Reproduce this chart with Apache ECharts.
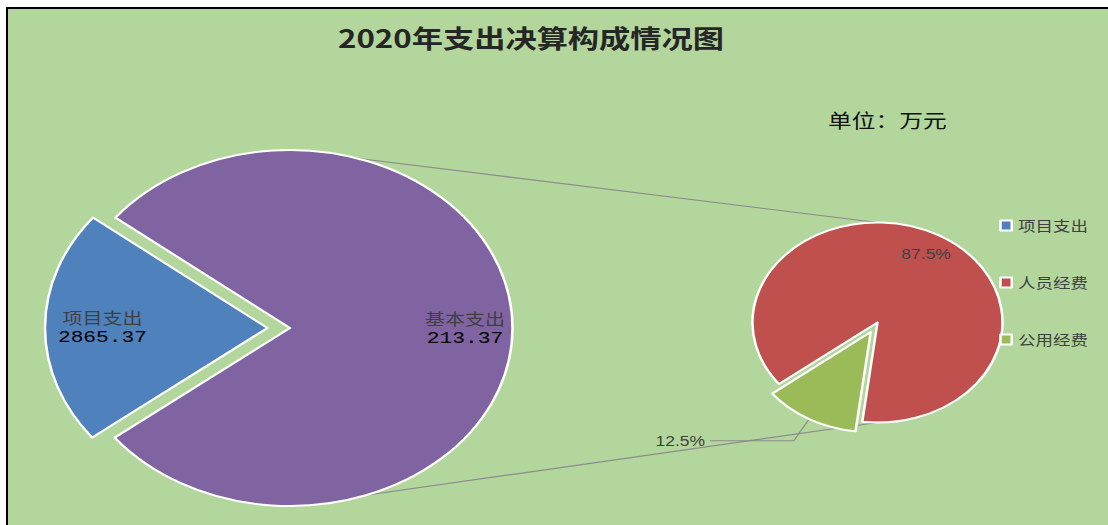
<!DOCTYPE html>
<html>
<head>
	<meta charset="UTF-8">
	<title>2020年支出决算构成情况图</title>
	<script src="https://cdn.jsdelivr.net/npm/echarts@6/dist/echarts.min.js"></script>
	<style>
		html, body { margin: 0; padding: 0; background: #fff; overflow: hidden; }
		#frame { position: absolute; left: 6px; top: 7px; width: 1100px; height: 516px; border-left: 2px solid #000; border-top: 2px solid #000; overflow: hidden; background: #b3d69c; }
		/* 原图整体横向拉伸约 1.25 倍，饼图呈椭圆 */
		#main { width: 880px; height: 516px; transform: scaleX(1.25); transform-origin: 0 0; }
	</style>
</head>
<body>
	<div id="frame"><div id="main"></div></div>
	<script type="text/javascript">
		// 数据
		var mainNames = ['项目支出', '基本支出'];
		var mainShares = [21.2, 78.8];          // 左侧大饼图扇区占比（按图量取）
		var mainLabels = ['2865.37', '213.37'];  // 左侧饼图标注的数值
		var subNames = ['人员经费', '公用经费'];
		var subValues = [87.5, 12.5];
		var legendNames = ['项目支出', '人员经费', '公用经费'];

		var mainColors = ['#4f81bd', '#8064a2'];
		var subColors = ['#c0504d', '#9bbb59'];

		// 两个饼图的位置
		var L = { cx: 225.6, cy: 319, r: 178 };
		var R = { cx: 695.6, cy: 313.5, r: 100 };
		var cjk = 'Noto Sans CJK SC';
		var clear = 'rgba(0,0,0,0)';

		var chart = echarts.init(document.getElementById('main'), null, { renderer: 'svg' });

		var option = {
			animation: false,
			backgroundColor: '#b3d69c',
			title: [{
				text: '2020年支出决算构成情况图',
				left: 264,
				top: 15,
				padding: 0,
				textStyle: { fontSize: 25, fontWeight: 'bold', color: '#262626', fontFamily: cjk }
			}, {
				text: '单位：万元',
				left: 656,
				top: 101,
				padding: 0,
				textStyle: { fontSize: 19, fontWeight: 'normal', color: '#111', fontFamily: cjk }
			}],
			legend: {
				orient: 'vertical',
				left: 793,
				top: 209,
				padding: 0,
				data: legendNames,
				icon: 'rect',
				itemWidth: 9,
				itemHeight: 10,
				itemGap: 42,
				selectedMode: false,
				itemStyle: { borderColor: '#fff', borderWidth: 2 },
				textStyle: { fontSize: 14, lineHeight: 15, color: '#404040', fontFamily: cjk }
			},
			// 两饼之间的连接线
			graphic: [{
				type: 'line',
				z: 0,
				shape: { x1: L.cx, y1: L.cy - L.r, x2: R.cx, y2: R.cy - R.r },
				style: { stroke: '#8c8c8c', lineWidth: 1.2 }
			}, {
				type: 'line',
				z: 0,
				shape: { x1: L.cx, y1: L.cy + L.r, x2: R.cx, y2: R.cy + R.r },
				style: { stroke: '#8c8c8c', lineWidth: 1.2 }
			}],
			series: [{
				name: 'main',
				type: 'pie',
				silent: true,
				center: [L.cx, L.cy],
				radius: [0, L.r],
				startAngle: 218,
				selectedMode: 'single',
				selectedOffset: 18,
				avoidLabelOverlap: false,
				label: { show: false },
				labelLine: { show: false },
				itemStyle: { borderColor: '#fff', borderWidth: 2 },
				select: { itemStyle: { borderColor: '#fff', borderWidth: 2 } },
				data: mainNames.map(function(n, i) {
					return { name: n, value: mainShares[i], selected: i === 0, itemStyle: { color: mainColors[i] } };
				})
			}, {
				name: 'sub',
				type: 'pie',
				silent: true,
				center: [R.cx, R.cy],
				radius: [0, R.r],
				startAngle: 218,
				selectedMode: 'single',
				selectedOffset: 11,
				avoidLabelOverlap: false,
				label: { show: false },
				labelLine: { show: false },
				itemStyle: { borderColor: '#fff', borderWidth: 2 },
				select: { itemStyle: { borderColor: '#fff', borderWidth: 2 } },
				data: subNames.map(function(n, i) {
					var d = { name: n, value: subValues[i], itemStyle: { color: subColors[i] } };
					if (i === 1) {
						d.selected = true;
						d.label = {
							show: true,
							position: 'outside',
							distanceToLabelLine: 4,
							color: '#404040',
							fontSize: 14,
							fontFamily: 'Liberation Sans',
							formatter: function(p) { return p.percent.toFixed(1) + '%'; }
						};
						d.labelLine = { show: true, length: 25, length2: 67, lineStyle: { color: '#8c8c8c', width: 1 } };
					}
					return d;
				})
			}, {
				// 左饼标签层
				name: 'mainLabel',
				type: 'pie',
				silent: true,
				center: [L.cx, L.cy],
				radius: [96, L.r],
				startAngle: 218,
				selectedMode: 'single',
				selectedOffset: 10,
				avoidLabelOverlap: false,
				itemStyle: { color: clear, borderWidth: 0 },
				select: { itemStyle: { color: clear, borderWidth: 0 } },
				labelLine: { show: false },
				label: {
					show: true,
					position: 'inside',
					formatter: function(p) {
						return '{n|' + p.name + '}\n{v|' + mainLabels[p.dataIndex] + '}';
					},
					rich: {
						n: { fontSize: 16, lineHeight: 21, color: '#404040', fontFamily: cjk },
						v: { fontSize: 17, lineHeight: 21, color: '#000', fontFamily: 'Liberation Mono' }
					}
				},
				data: mainNames.map(function(n, i) {
					return { name: n, value: mainShares[i], selected: i === 0 };
				})
			}, {
				// 右饼标签层
				name: 'subLabel',
				type: 'pie',
				silent: true,
				center: [R.cx, R.cy],
				radius: [52, R.r],
				startAngle: 218,
				selectedMode: 'single',
				selectedOffset: 11,
				avoidLabelOverlap: false,
				itemStyle: { color: clear, borderWidth: 0 },
				select: { itemStyle: { color: clear, borderWidth: 0 } },
				labelLine: { show: false },
				label: {
					show: true,
					position: 'inside',
					color: '#404040',
					fontSize: 14,
					fontFamily: 'Liberation Sans',
					formatter: function(p) { return p.percent.toFixed(1) + '%'; }
				},
				data: subNames.map(function(n, i) {
					return { name: n, value: subValues[i], selected: i === 1, label: { show: i === 0 } };
				})
			}]
		};

		chart.setOption(option);
	</script>
</body>
</html>
